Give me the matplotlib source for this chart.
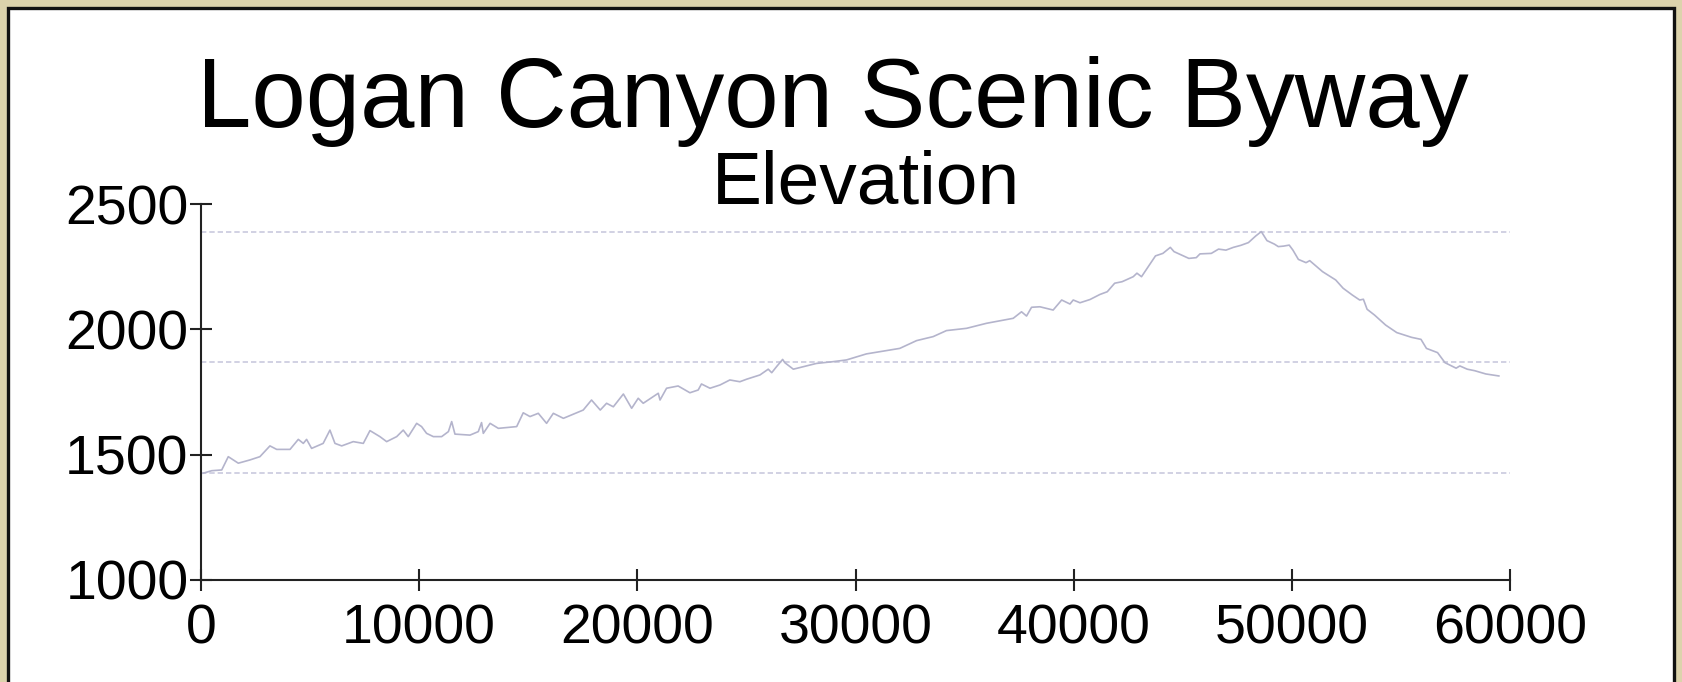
import matplotlib
matplotlib.use("Agg")
import matplotlib.pyplot as plt
from matplotlib.patches import Rectangle

plt.rcParams['font.family'] = ['Liberation Sans', 'DejaVu Sans']

title = "Logan Canyon Scenic Byway"
subtitle = "Elevation"

distance = [100, 490, 950, 1250, 1710, 2245, 2700, 3160, 3470, 4080, 4460, 4690, 4840, 5070,
            5600, 5910, 6140, 6450, 6980, 7440, 7745, 8200, 8510, 8970, 9270, 9500, 9885,
            10110, 10340, 10650, 11030, 11340, 11490, 11640, 12330, 12710, 12860, 12940,
            13250, 13630, 14470, 14770, 15080, 15460, 15840, 16150, 16610, 17520, 17900,
            18300, 18590, 18900, 19360, 19740, 20040, 20270, 20960, 21040, 21340, 21870,
            22410, 22790, 22940, 23330, 23790, 24240, 24700, 25010, 25620, 26000, 26160,
            26380, 26660, 26760, 27150, 27750, 28210, 28970, 29590, 30500, 31420, 32030,
            32800, 33560, 34170, 35090, 36000, 37230, 37610, 37840, 38070, 38450, 39060,
            39450, 39830, 39980, 40290, 40750, 41200, 41540, 41880, 42220, 42730, 42900,
            43110, 43750, 44090, 44430, 44600, 45280, 45620, 45790, 46310, 46640, 46980,
            47320, 47660, 48010, 48340, 48600, 48860, 49200, 49380, 49620, 49880, 50050,
            50300, 50650, 50820, 51410, 52010, 52350, 52770, 53110, 53280, 53450, 53790,
            54300, 54810, 55490, 55920, 56170, 56680, 57020, 57530, 57700, 58040, 58380,
            58890, 59490]
elevation = [1426, 1436, 1439, 1492, 1466, 1479, 1492, 1535, 1521, 1521, 1561, 1545, 1561, 1525,
             1545, 1598, 1545, 1535, 1552, 1545, 1596, 1572, 1552, 1572, 1598, 1572, 1625,
             1612, 1585, 1572, 1572, 1592, 1632, 1582, 1578, 1592, 1628, 1585,
             1625, 1605, 1612, 1667, 1652, 1665, 1625, 1665, 1645, 1678, 1718,
             1678, 1705, 1691, 1742, 1685, 1725, 1705, 1745, 1718, 1765, 1774,
             1747, 1758, 1782, 1765, 1778, 1798, 1791, 1801, 1818, 1841, 1827,
             1851, 1880, 1867, 1841, 1854, 1864, 1871, 1878, 1902, 1915, 1924,
             1955, 1971, 1995, 2004, 2024, 2044, 2070, 2053, 2088, 2090, 2077,
             2117, 2101, 2117, 2106, 2119, 2139, 2150, 2184, 2190, 2210, 2224,
             2210, 2293, 2303, 2327, 2310, 2283, 2286, 2301, 2303, 2320, 2316,
             2327, 2335, 2346, 2372, 2390, 2354, 2340, 2330, 2332, 2336, 2316,
             2279, 2266, 2274, 2230, 2197, 2164, 2137, 2117, 2120, 2080, 2057,
             2017, 1987, 1968, 1960, 1924, 1907, 1867, 1845, 1854, 1841, 1835,
             1822, 1814]

ref_levels = [1426, 1871, 2390]
x_ticks = [0, 10000, 20000, 30000, 40000, 50000, 60000]
y_ticks = [1000, 1500, 2000, 2500]

W, H = 1682, 682
fig = plt.figure(figsize=(W / 100, H / 100), dpi=100)
fig.patch.set_facecolor('#dcd3ac')

# white panel with dark border
panel = Rectangle((7.5 / W, -0.02), (1674 - 7.5) / W, (H - 8) / H + 0.02,
                  transform=fig.transFigure, facecolor='white', edgecolor='#111111',
                  linewidth=2.4, zorder=-5)
fig.patches.append(panel)

ax = fig.add_axes([201 / W, (H - 580) / H, (1510 - 201) / W, 376 / H])
ax.set_facecolor('none')
ax.set_zorder(2)

for lv in ref_levels:
    ax.plot([0, 60000], [lv, lv], color='#c9c9de', linewidth=1.2,
            dashes=(3.2, 1.8), zorder=1)

ax.plot(distance, elevation, color='#b4b4cc', linewidth=1.2, zorder=2)

ax.set_xlim(0, 60000)
ax.set_ylim(1000, 2500)
ax.set_xticks(x_ticks)
ax.set_yticks(y_ticks)
ax.set_xticklabels([str(v) for v in x_ticks])
ax.set_yticklabels([str(v) for v in y_ticks])

for s in ['top', 'right']:
    ax.spines[s].set_visible(False)
for s in ['left', 'bottom']:
    ax.spines[s].set_color('#222222')
    ax.spines[s].set_linewidth(1.5)

ax.tick_params(axis='both', direction='inout', length=15.5, width=1.5,
               color='#222222', labelsize=40, labelcolor='black')
ax.tick_params(axis='y', pad=1.2)
ax.tick_params(axis='x', pad=9.5)

fig.text(832.5 / W, (H - 127) / H, title, ha='center', va='baseline',
         fontsize=70.4, color='black')
fig.text(866 / W, (H - 203.3) / H, subtitle, ha='center', va='baseline',
         fontsize=54, color='black')

fig.savefig('out.png', dpi=100, facecolor=fig.get_facecolor())
